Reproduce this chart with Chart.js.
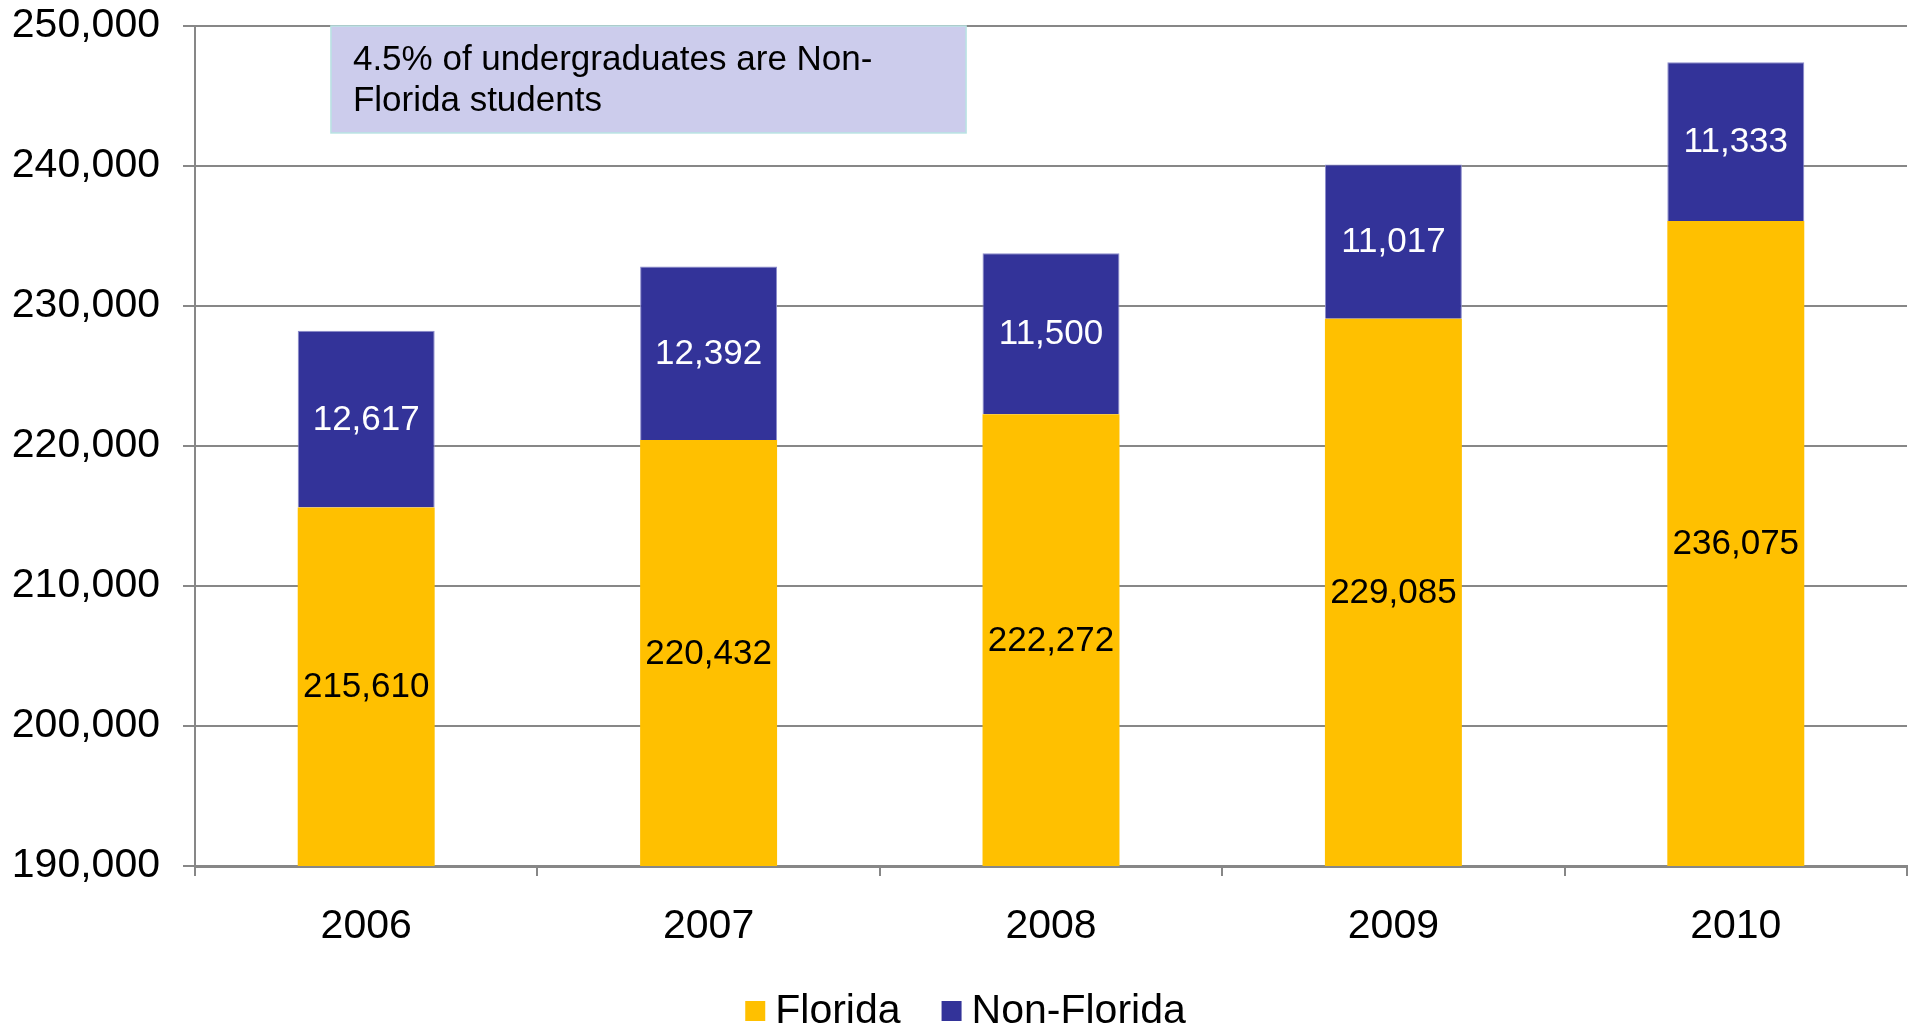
<!DOCTYPE html>
<html>
<head>
<meta charset="utf-8">
<script src="https://cdn.jsdelivr.net/npm/chart.js@4"></script>
<style>
  html, body { margin: 0; padding: 0; background: #fff; }
  #wrap { width: 1915px; height: 1029px; }
</style>
</head>
<body>
<div id="wrap"><canvas id="myChart" width="1915" height="1029"></canvas></div>
<script>
const years = ['2006', '2007', '2008', '2009', '2010'];
const florida = [215610, 220432, 222272, 229085, 236075];
const nonFlorida = [12617, 12392, 11500, 11017, 11333];
const yMin = 190000, yMax = 250000, yStep = 10000;
const noteLines = ['4.5% of undergraduates are Non-', 'Florida students'];

const fontFamily = '"Liberation Sans", Arial, sans-serif';
const gray = '#878787';
const fmt = v => v.toLocaleString('en-US');

// labels in the middle of each visible bar segment
const barLabels = {
  id: 'barLabels',
  afterDatasetsDraw(chart) {
    const ctx = chart.ctx;
    const area = chart.chartArea;
    ctx.save();
    ctx.font = '35px ' + fontFamily;
    ctx.textAlign = 'center';
    ctx.textBaseline = 'middle';
    chart.data.datasets.forEach((ds, i) => {
      chart.getDatasetMeta(i).data.forEach((bar, j) => {
        const top = Math.max(bar.y, area.top);
        const bottom = Math.min(bar.base, area.bottom);
        ctx.fillStyle = i === 0 ? '#000' : '#fff';
        ctx.fillText(fmt(ds.data[j]), bar.x, (top + bottom) / 2 + 1);
      });
    });
    ctx.restore();
  }
};

// text box in upper left
const noteBox = {
  id: 'noteBox',
  afterDatasetsDraw(chart) {
    const { ctx, scales } = chart;
    const x1 = scales.x.getPixelForValue(-0.103);
    const x2 = scales.x.getPixelForValue(1.752);
    const y1 = scales.y.getPixelForValue(250000);
    const y2 = scales.y.getPixelForValue(242360);
    ctx.save();
    ctx.fillStyle = '#CCCCEC';
    ctx.fillRect(x1, y1, x2 - x1, y2 - y1);
    ctx.strokeStyle = '#B9E3E3';
    ctx.lineWidth = 1.5;
    ctx.strokeRect(x1, y1, x2 - x1, y2 - y1);
    ctx.fillStyle = '#000';
    ctx.font = '35px ' + fontFamily;
    ctx.textAlign = 'left';
    ctx.textBaseline = 'middle';
    noteLines.forEach((t, k) => ctx.fillText(t, x1 + 22, y1 + 34 + k * 41));
    ctx.restore();
  }
};

// legend drawn by hand (tighter box/text spacing than the built-in one)
const bottomLegend = {
  id: 'bottomLegend',
  afterDraw(chart) {
    const ctx = chart.ctx;
    const box = 20, gapText = 10, gapItem = 41;
    ctx.save();
    ctx.font = '41px ' + fontFamily;
    ctx.textBaseline = 'middle';
    const items = chart.data.datasets.map(ds => ({ text: ds.label, color: ds.backgroundColor, w: ctx.measureText(ds.label).width }));
    const total = items.reduce((s, it) => s + box + gapText + it.w, 0) + gapItem * (items.length - 1);
    let x = (chart.width - total) / 2 + 8;
    const yc = 1012;
    items.forEach(it => {
      ctx.fillStyle = it.color;
      ctx.fillRect(x, yc - 11, box, box);
      ctx.fillStyle = '#000';
      ctx.fillText(it.text, x + box + gapText, yc);
      x += box + gapText + it.w + gapItem;
    });
    ctx.restore();
  }
};

const ctx = document.getElementById('myChart');
new Chart(ctx, {
  type: 'bar',
  data: {
    labels: years,
    datasets: [
      { label: 'Florida', data: florida, backgroundColor: '#FFC000', borderWidth: 0 },
      { label: 'Non-Florida', data: nonFlorida, backgroundColor: '#333399', borderColor: '#8C8CCC', borderWidth: 1, borderSkipped: 'bottom' }
    ]
  },
  options: {
    responsive: false,
    animation: false,
    devicePixelRatio: 1,
    layout: { padding: { top: 26, right: 8, left: 0, bottom: 60 } },
    datasets: { bar: { barPercentage: 0.8, categoryPercentage: 0.5 } },
    plugins: {
      legend: { display: false },
      tooltip: { enabled: false }
    },
    scales: {
      x: {
        stacked: true,
        afterFit: s => { s.height = 103; },
        grid: { offset: true, drawOnChartArea: false, drawTicks: true, tickLength: 10, color: gray, lineWidth: 2 },
        border: { color: gray, width: 3 },
        ticks: { color: '#000', font: { family: fontFamily, size: 41 }, padding: 26 }
      },
      y: {
        stacked: true,
        min: yMin,
        max: yMax,
        afterFit: s => { s.width = 195; s.paddingTop = 0; s.paddingBottom = 0; },
        grid: { color: gray, lineWidth: 2, tickLength: 12 },
        border: { color: gray, width: 2 },
        ticks: {
          stepSize: yStep,
          color: '#000',
          font: { family: fontFamily, size: 41 },
          padding: 23,
          callback: v => fmt(v)
        }
      }
    }
  },
  plugins: [barLabels, noteBox, bottomLegend]
});
</script>
</body>
</html>
